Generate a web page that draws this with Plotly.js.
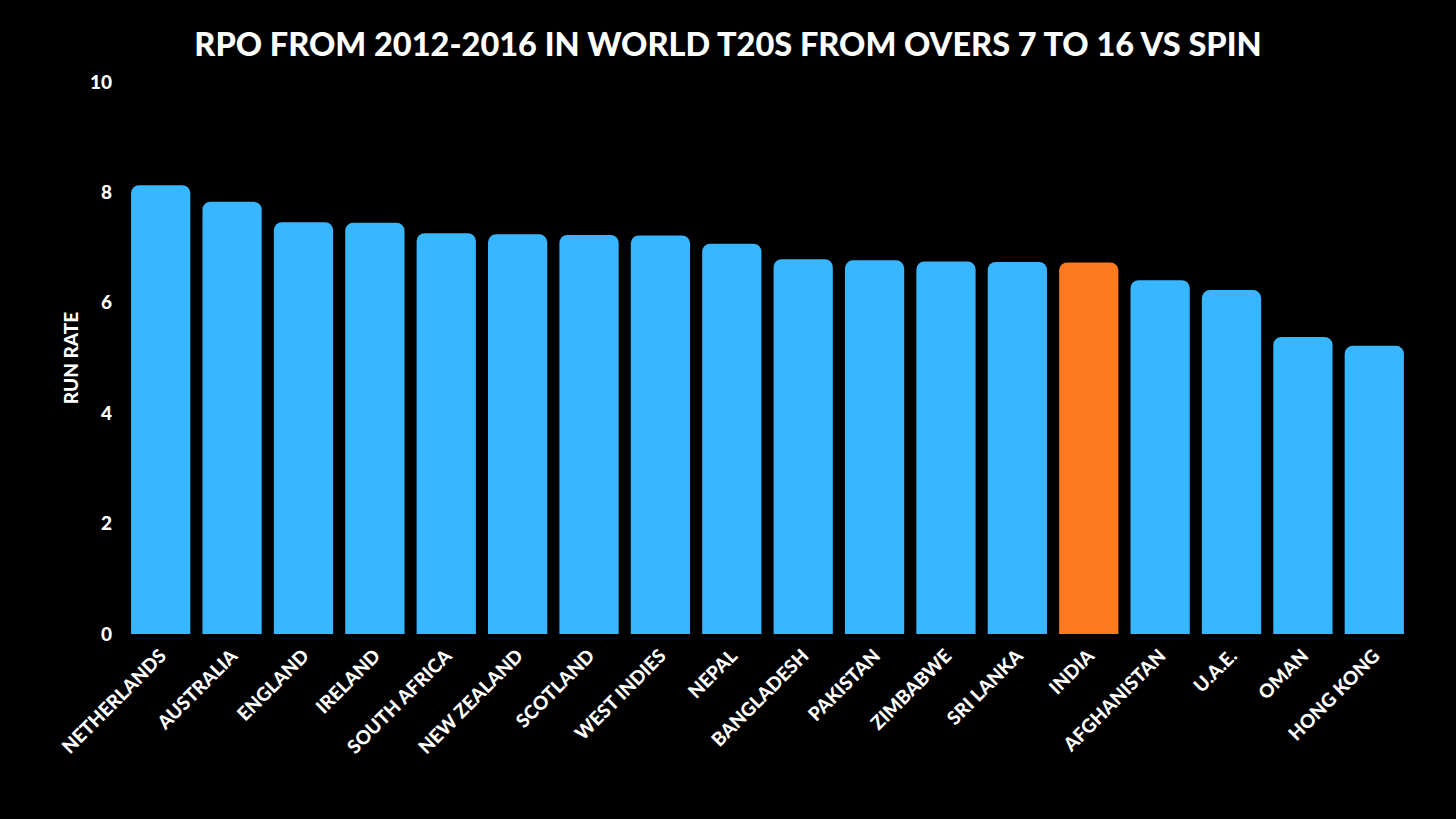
<!DOCTYPE html>
<html>
<head>
<meta charset="utf-8">
<script src="https://cdn.plot.ly/plotly-3.0.1.min.js"></script>
<style>html,body{margin:0;padding:0;background:#000;}#chart{width:1456px;height:819px;}</style>
</head>
<body>
<div id="chart"></div>
<script>
const teams = ["NETHERLANDS","AUSTRALIA","ENGLAND","IRELAND","SOUTH AFRICA","NEW ZEALAND","SCOTLAND","WEST INDIES","NEPAL","BANGLADESH","PAKISTAN","ZIMBABWE","SRI LANKA","INDIA","AFGHANISTAN","U.A.E.","OMAN","HONG KONG"];
const runRate = [8.13,7.83,7.46,7.45,7.26,7.24,7.23,7.22,7.07,6.79,6.77,6.75,6.74,6.73,6.41,6.23,5.38,5.22];
const highlight = "INDIA";

const colors = teams.map(t => t === highlight ? "#FF7A1F" : "#38B6FF");
const fontFam = "Lato";

Plotly.newPlot("chart", [{
  type: "bar",
  x: teams,
  y: runRate,
  marker: {color: colors, cornerradius: 8, line: {width: 0}},
  hoverinfo: "x+y"
}], {
  width: 1456, height: 819,
  paper_bgcolor: "#000", plot_bgcolor: "#000",
  margin: {l: 125, r: 46, t: 82, b: 185},
  bargap: 0.17,
  title: {text: "RPO FROM 2012-2016 IN WORLD T20S FROM OVERS 7 TO 16 VS SPIN", x: 0.5, xanchor: "center", y: 0.945, yanchor: "middle",
          font: {family: fontFam, size: 32.5, color: "#fff", weight: 900}},
  xaxis: {tickangle: -45, showgrid: false, zeroline: false, showline: false, ticks: "",
          ticklabelstandoff: 6,
          tickfont: {family: fontFam, size: 19, color: "#fff", weight: 900}},
  yaxis: {range: [0, 10], dtick: 2, showgrid: false, zeroline: false, showline: false, ticks: "",
          ticklabelstandoff: 12,
          tickfont: {family: fontFam, size: 19, color: "#fff", weight: 900},
          title: {text: "RUN RATE", standoff: 6, font: {family: fontFam, size: 19, color: "#fff", weight: 900}}},
  showlegend: false
}, {displayModeBar: false});
</script>
</body>
</html>
